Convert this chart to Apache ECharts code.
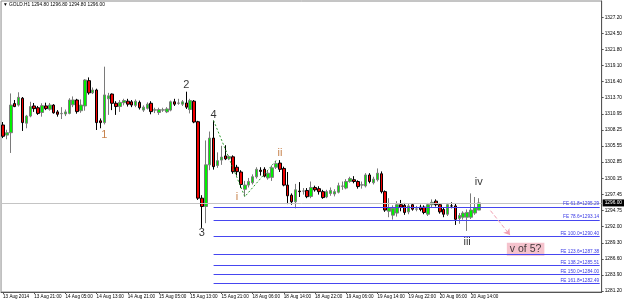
<!DOCTYPE html>
<html><head><meta charset="utf-8">
<script src="https://cdn.jsdelivr.net/npm/echarts@6/dist/echarts.min.js"></script>
<style>html,body{margin:0;padding:0;background:#fff}#c{width:625px;height:302px}</style>
</head><body><div id="c"></div>
<script>
// ---- data ----
const tickLabels = ['13 Aug 2014','13 Aug 21:00','14 Aug 05:00','14 Aug 13:00','14 Aug 21:00','15 Aug 05:00','15 Aug 13:00','15 Aug 21:00','18 Aug 06:00','18 Aug 14:00','18 Aug 22:00','19 Aug 06:00','19 Aug 14:00','19 Aug 22:00','20 Aug 06:00','20 Aug 14:00'];
const priceTicks = [1327.20,1324.50,1321.80,1319.10,1316.40,1313.70,1310.95,1308.25,1305.55,1302.85,1300.15,1297.45,1294.75,1292.00,1289.30,1286.60,1283.90,1281.20];
const open  = [1309.1,1307.4,1307.8,1312.7,1312.45,1313.6,1309.4,1310.6,1312.3,1312.0,1311.2,1312.3,1311.75,1312.45,1311.3,1311.0,1310.95,1311.05,1312.5,1313.3,1311.5,1312.3,1316.55,1314.5,1314.98,1309.8,1309.5,1313.5,1314.3,1312.75,1312.2,1312.85,1313.1,1313.0,1312.4,1312.9,1311.6,1311.9,1312.75,1311.6,1311.2,1311.6,1311.3,1311.6,1313.0,1312.75,1312.6,1312.8,1311.7,1313.1,1309.65,1296.8,1295.4,1302.4,1306.9,1302.3,1303.2,1303.9,1303.5,1303.75,1302.0,1301.2,1298.3,1299.0,1299.4,1300.4,1301.5,1301.65,1300.2,1300.3,1302.0,1302.7,1301.8,1299.0,1297.3,1296.2,1298.0,1298.0,1298.1,1297.1,1298.6,1298.4,1297.9,1297.0,1297.6,1297.5,1297.8,1298.8,1298.5,1299.6,1299.9,1299.6,1299.0,1298.85,1300.7,1299.4,1299.9,1300.9,1297.9,1294.6,1293.95,1294.3,1295.7,1295.6,1294.5,1295.7,1294.95,1295.3,1295.3,1294.1,1295.7,1296.3,1295.7,1294.9,1294.1,1295.5,1295.5,1293.4,1293.6,1293.6,1293.6,1294.3,1294.8];
const high  = [1309.6,1308.3,1314.4,1313.3,1314.6,1313.8,1310.8,1313.0,1312.8,1312.3,1312.75,1312.85,1312.8,1312.6,1311.6,1312.1,1311.7,1313.6,1313.9,1313.5,1313.4,1316.8,1317.1,1315.4,1315.2,1310.2,1318.9,1314.5,1314.4,1313.1,1313.3,1313.5,1313.5,1313.3,1313.4,1313.2,1312.4,1312.9,1313.1,1312.0,1312.0,1312.0,1312.1,1313.2,1313.5,1313.5,1313.3,1314.7,1313.5,1313.3,1309.8,1297.3,1306.5,1308.0,1309.85,1304.5,1305.6,1305.7,1304.0,1304.0,1302.4,1301.5,1299.7,1300.2,1300.8,1302.0,1302.0,1302.0,1301.5,1302.3,1303.1,1303.2,1302.1,1301.2,1297.6,1299.2,1299.5,1298.5,1298.5,1299.6,1298.9,1298.8,1298.2,1298.2,1298.6,1298.3,1299.4,1299.6,1300.0,1300.4,1300.5,1299.8,1299.6,1301.0,1301.0,1300.4,1301.8,1301.3,1298.1,1296.8,1295.6,1296.3,1296.5,1296.0,1295.9,1295.9,1295.5,1295.7,1295.6,1296.0,1296.6,1296.6,1296.0,1295.2,1296.0,1296.1,1295.9,1294.3,1294.6,1294.9,1297.6,1297.0,1296.8];
const low   = [1306.9,1306.7,1304.4,1312.1,1312.2,1308.1,1308.55,1310.4,1311.3,1310.8,1310.5,1311.6,1311.5,1311.0,1310.5,1310.1,1310.6,1310.9,1312.1,1311.0,1311.15,1311.5,1314.2,1314.3,1308.26,1308.55,1309.2,1310.8,1311.6,1310.8,1311.3,1312.4,1312.2,1312.1,1312.1,1311.7,1311.3,1311.7,1310.9,1311.1,1310.8,1311.3,1311.1,1311.4,1312.3,1312.5,1312.3,1311.8,1311.05,1309.4,1296.5,1291.8,1292.6,1301.5,1301.6,1301.9,1302.4,1303.2,1303.2,1300.9,1300.6,1298.5,1297.05,1298.6,1299.1,1300.1,1300.6,1300.3,1299.9,1299.7,1301.7,1301.2,1298.8,1295.8,1295.7,1295.1,1297.0,1297.4,1296.8,1296.8,1297.9,1297.4,1296.7,1296.8,1297.2,1297.1,1297.6,1298.2,1298.3,1299.4,1299.3,1298.4,1298.4,1298.6,1299.3,1299.1,1299.6,1297.6,1294.5,1293.6,1293.2,1293.7,1294.6,1294.0,1294.1,1294.7,1294.6,1294.6,1294.1,1293.8,1295.3,1295.4,1294.2,1293.6,1293.8,1295.1,1292.3,1292.5,1293.2,1291.3,1293.3,1294.0,1294.8];
const close = [1307.2,1307.8,1312.45,1312.2,1313.75,1309.5,1310.6,1312.2,1311.85,1311.05,1312.35,1311.85,1312.45,1311.15,1310.9,1311.05,1311.3,1313.3,1313.3,1311.35,1312.45,1316.66,1314.5,1314.98,1309.5,1309.5,1314.15,1314.0,1312.75,1312.2,1312.9,1313.2,1312.6,1312.45,1313.1,1312.0,1312.1,1312.6,1311.35,1311.65,1311.7,1311.65,1311.8,1313.0,1312.6,1312.8,1313.0,1312.1,1313.2,1309.6,1296.8,1295.4,1302.4,1306.9,1302.1,1303.1,1303.7,1303.4,1303.8,1301.25,1301.25,1299.1,1299.0,1299.6,1300.4,1301.65,1301.3,1300.5,1301.0,1301.9,1302.6,1301.65,1299.0,1297.2,1296.2,1298.2,1297.9,1298.0,1297.05,1298.6,1298.2,1297.9,1296.9,1297.9,1298.1,1297.9,1298.9,1298.85,1299.6,1300.1,1299.6,1298.75,1299.05,1300.7,1299.6,1300.0,1301.0,1297.9,1294.8,1295.2,1295.1,1295.7,1295.3,1294.4,1295.5,1294.95,1295.0,1294.9,1294.4,1295.7,1296.1,1295.7,1294.5,1294.1,1295.7,1295.5,1293.25,1293.9,1294.3,1294.4,1294.8,1295.2,1296.0];
const barSlots = 154;            // visible bar slots incl. empty right shift
const lastPrice = 1296.00;
const fiboStartBar = 54;
const fiboLevels = ['61.8','78.6','100.0','123.6','138.2','150.0','161.8'];
const fiboPrices = [1295.29,1293.14,1290.40,1287.38,1285.51,1284.00,1282.49];
const wavePath = [[54,1309.85],[62,1297.05],[70,1303.1]];
const waveLabels = [['1',26,1307.4],['2',47,1315.8],['3',51,1290.9],['4',54,1310.8],['i',60,1297.0],['ii',71,1304.4],['iii',119,1289.5],['iv',122,1299.5]];
const forecastText = 'v of 5?';
const forecastPos = [133.5,1288.2];
const forecastArrow = [[125,1294.7],[130,1290.6]];
const header = '\u25BC GOLD.H1 1294.80 1296.80 1294.80 1296.00';

// ---- chart ----
const cats = Array.from({length: barSlots}, (_, i) => String(i));
const candles = open.map((o, i) => [o, close[i], low[i], high[i]]);
const showTick = (i) => i % 8 === 0 && i / 8 < tickLabels.length;
const orangeSet = new Set(['1','i','ii']);
const FONT = 'Liberation Sans, Arial, sans-serif';

const chart = echarts.init(document.getElementById('c'), null, {renderer: 'canvas'});
chart.setOption({
  animation: false,
  backgroundColor: '#ffffff',
  graphic: [{type: 'text', left: 3, top: 2, style: {text: header, fontSize: 4.8, fontFamily: FONT, fill: '#000'}}],
  grid: {left: 1, top: 1, right: 22, bottom: 10, show: true, borderColor: '#8a8a8a', borderWidth: 1, backgroundColor: '#fff'},
  xAxis: {
    type: 'category', data: cats, boundaryGap: true,
    axisLine: {show: true, lineStyle: {color: '#555', width: 1}},
    axisTick: {show: true, alignWithLabel: true, interval: showTick, length: 2, lineStyle: {color: '#555'}},
    axisLabel: {interval: showTick, formatter: (v, i) => tickLabels[i / 8] || '', align: 'left', margin: 2,
      fontSize: 4.6, fontFamily: FONT, color: '#000'},
    splitLine: {show: false}
  },
  yAxis: {
    type: 'value', position: 'right', min: 1281.03, max: 1329.94, scale: true,
    axisLine: {show: true, lineStyle: {color: '#555', width: 1}},
    axisTick: {show: true, length: 2, customValues: priceTicks, lineStyle: {color: '#555'}},
    axisLabel: {customValues: priceTicks, formatter: v => v.toFixed(2), margin: 3, fontSize: 4.8, fontFamily: FONT, color: '#000'},
    splitLine: {show: false}
  },
  series: [
    {
      type: 'candlestick', data: candles, barWidth: 3,
      itemStyle: {color: '#00f000', color0: '#f00000', borderColor: '#7a7a7a', borderColor0: '#000', borderWidth: 1},
      markLine: {
        silent: true, symbol: 'none', animation: false,
        data: [{yAxis: lastPrice}],
        lineStyle: {color: '#c4c4c4', type: 'solid', width: 1},
        label: {position: 'end', distance: 1, formatter: lastPrice.toFixed(2), backgroundColor: '#000', color: '#fff',
          fontSize: 4.8, fontFamily: FONT, padding: [1, 2, 1, 2]}
      }
    },
    {
      type: 'line', data: [], silent: true,
      markLine: {
        silent: true, symbol: 'none', animation: false,
        lineStyle: {color: '#4646f0', type: 'solid', width: 1},
        label: {position: 'insideEndTop', distance: 0.5, color: '#3a3ae6', fontSize: 4.7, fontFamily: FONT},
        data: fiboPrices.map((p, k) => [
          {coord: [fiboStartBar, p], label: {formatter: 'FE ' + fiboLevels[k] + '=' + p.toFixed(2)}},
          {coord: [barSlots - 1, p]}
        ])
      }
    },
    {
      type: 'line', data: wavePath, symbol: 'none', silent: true, z: 3,
      lineStyle: {color: '#2f9a2f', width: 1, type: [2, 2]}
    },
    {
      type: 'scatter', symbolSize: 0, silent: true,
      data: waveLabels.map(w => ({value: [w[1], w[2]], label: {formatter: w[0], color: orangeSet.has(w[0]) ? '#b8621e' : '#000'}})),
      label: {show: true, position: 'inside', fontSize: 11, fontFamily: FONT}
    },
    {
      type: 'scatter', symbolSize: 0, silent: true,
      data: [{value: forecastPos}],
      label: {show: true, position: 'inside', formatter: forecastText, fontSize: 10.5, fontFamily: FONT, color: '#111',
        backgroundColor: '#f3b4c1', padding: [1, 3, 1, 3]},
      markLine: {
        silent: true, symbol: ['none', 'arrow'], symbolSize: 6, animation: false,
        lineStyle: {color: '#f2a0b2', type: 'dashed', width: 1},
        label: {show: false},
        data: [[{coord: forecastArrow[0]}, {coord: forecastArrow[1]}]]
      }
    }
  ]
});
</script></body></html>
